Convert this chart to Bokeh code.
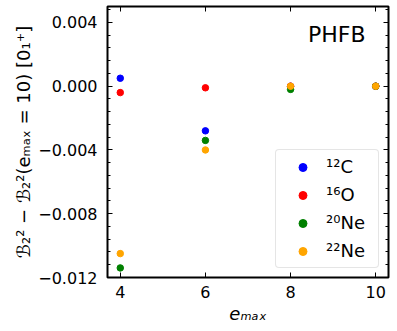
from bokeh.plotting import figure
from bokeh.models import (FixedTicker, LinearAxis, Range1d, CustomJSTickFormatter,
                          Label, Legend, LegendItem, ColumnDataSource)
from bokeh.embed import file_html
from bokeh.resources import INLINE

# ---- data -------------------------------------------------------------
emax = [4, 6, 8, 10]
c12 = [0.0005, -0.0028, 0.0, 0.0]
o16 = [-0.0004, -0.0001, 0.0, 0.0]
ne20 = [-0.0114, -0.0034, -0.0002, 0.0]
ne22 = [-0.0105, -0.0040, 0.0, 0.0]
series_names = ["\u00b9\u00b2C", "\u00b9\u2076O", "\u00b2\u2070Ne", "\u00b2\u00b2Ne"]
series_colors = ["#0000ff", "#ff0000", "#008000", "#ffa500"]
x_ticks = [4, 6, 8, 10]
y_ticks = [-0.012, -0.008, -0.004, 0.0, 0.004]
y_minor_step = 0.0008
y_minor = [round(-0.012 + y_minor_step * k, 6) for k in range(23)]

FONT = "DejaVu Sans"

p = figure(frame_width=281, frame_height=271,
           x_range=Range1d(3.7, 10.3), y_range=Range1d(-0.012, 0.005),
           output_backend="svg", toolbar_location=None,
           min_border_left=107, min_border_right=9,
           min_border_top=6, min_border_bottom=54)
p.xgrid.visible = False
p.ygrid.visible = False
p.outline_line_color = "black"
p.outline_line_width = 2
p.outline_line_alpha = 1.0
p.background_fill_color = "white"
p.border_fill_color = "white"

yfmt = CustomJSTickFormatter(code="""
const v = Math.abs(tick) < 1e-9 ? 0 : tick;
return (v < 0 ? '\u2212' : '') + Math.abs(v).toFixed(3);
""")
blank = CustomJSTickFormatter(code="return '';")


def style_axis(ax, labels=True):
    ax.axis_line_color = None
    ax.major_tick_in = 5
    ax.major_tick_out = 0
    ax.minor_tick_in = 3
    ax.minor_tick_out = 0
    ax.major_tick_line_color = "black"
    ax.minor_tick_line_color = "black"
    ax.major_label_text_font = FONT
    ax.major_label_text_color = "black"
    if labels:
        ax.major_label_text_font_size = "16px"
    else:
        ax.major_label_text_font_size = "0px"
        ax.major_label_standoff = 0


# bottom axis
xa = p.xaxis[0]
xa.ticker = FixedTicker(ticks=x_ticks)
style_axis(xa)
xa.major_label_standoff = 8
xa.axis_label = "e\u2098\u2090\u2093"
xa.axis_label_text_font = FONT
xa.axis_label_text_font_size = "18px"
xa.axis_label_text_font_style = "italic"
xa.axis_label_text_color = "black"
xa.axis_label_standoff = 2

# left axis
ya = p.yaxis[0]
ya.ticker = FixedTicker(ticks=y_ticks, minor_ticks=y_minor)
ya.formatter = yfmt
style_axis(ya)
ya.major_label_standoff = 10
ya.axis_label = "\u212c\u2082\u00b2 \u2212 \u212c\u2082\u00b2(e\u2098\u2090\u2093 = 10) [0\u2081\u207a]"
ya.axis_label_text_font = FONT
ya.axis_label_text_font_size = "18px"
ya.axis_label_text_font_style = "normal"
ya.axis_label_text_color = "black"
ya.axis_label_standoff = 1

# top and right axes (ticks only)
top = LinearAxis(ticker=FixedTicker(ticks=x_ticks), formatter=blank)
style_axis(top, labels=False)
p.add_layout(top, "above")
right = LinearAxis(ticker=FixedTicker(ticks=y_ticks, minor_ticks=y_minor), formatter=blank)
style_axis(right, labels=False)
p.add_layout(right, "right")

# scatter series
items = []
for name, vals, col in zip(series_names, [c12, o16, ne20, ne22], series_colors):
    src = ColumnDataSource(dict(x=emax, y=vals))
    r = p.scatter("x", "y", source=src, size=6.5, color=col)
    items.append(LegendItem(label=name, renderers=[r]))

legend = Legend(items=items, location="bottom_right")
legend.label_text_font = FONT
legend.label_text_font_size = "18px"
legend.label_text_color = "black"
legend.border_line_color = "#cccccc"
legend.border_line_width = 1
legend.background_fill_color = "white"
legend.background_fill_alpha = 0.8
legend.margin = 9
legend.padding = 6
legend.spacing = 7
legend.label_height = 20
legend.glyph_height = 20
legend.glyph_width = 41
legend.label_standoff = 3
legend.label_width = 46
if "border_radius" in Legend.properties():
    legend.border_radius = 4
p.add_layout(legend)

# annotation text
phfb_x, phfb_y = 8.41, 0.00324
p.add_layout(Label(x=phfb_x, y=phfb_y, text="PHFB", text_font=FONT,
                   text_font_size="22px", text_baseline="alphabetic",
                   text_align="left", text_color="black"))

open("out.html", "w").write(file_html(p, INLINE))
